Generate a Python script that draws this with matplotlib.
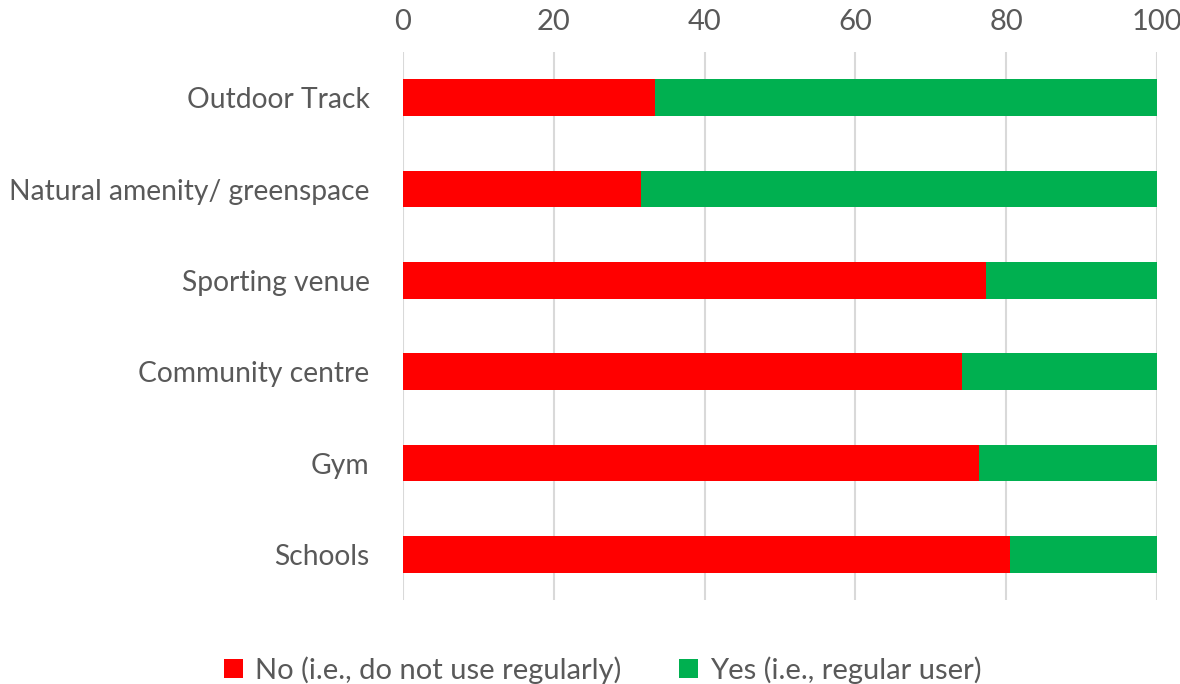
import numpy as np
import matplotlib.pyplot as plt

plt.rcParams['font.family'] = ['Lato', 'DejaVu Sans']

categories = ['Outdoor Track', 'Natural amenity/ greenspace', 'Sporting venue',
              'Community centre', 'Gym', 'Schools']
no_vals = [33.4, 31.6, 77.3, 74.1, 76.4, 80.5]
yes_vals = [100 - v for v in no_vals]
ticks = [0, 20, 40, 60, 80, 100]

fig = plt.figure(figsize=(11.8, 6.84), dpi=100)
ax = fig.add_axes([403/1180, 84/684, 754/1180, 548/684])

y = np.arange(len(categories))
ax.barh(y, no_vals, height=0.4, color='#FF0000', label='No (i.e., do not use regularly)', zorder=3)
ax.barh(y, yes_vals, left=no_vals, height=0.4, color='#00B050', label='Yes (i.e., regular user)', zorder=3)

ax.set_xlim(0, 100)
ax.set_ylim(len(categories) - 0.5, -0.5)
ax.set_yticks(y)
ax.set_yticklabels(categories)
ax.set_xticks(ticks)
ax.xaxis.tick_top()
ax.tick_params(axis='x', length=0, pad=12, labelsize=21, labelcolor='#595959')
ax.tick_params(axis='y', length=0, pad=24, labelsize=20.3, labelcolor='#595959')
ax.grid(axis='x', color='#D9D9D9', linewidth=1.5, zorder=0)
for s in ax.spines.values():
    s.set_visible(False)

ax.legend(loc='upper center', bbox_to_anchor=(0.265, -0.055), ncol=2, frameon=False,
          fontsize=21, labelcolor='#595959', handlelength=0.65, handleheight=0.65,
          handletextpad=0.4, columnspacing=2.0)

fig.savefig('out.png')
